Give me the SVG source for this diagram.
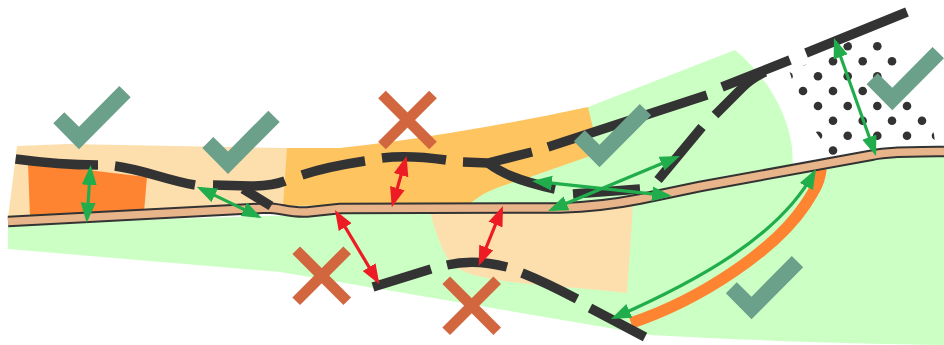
<svg xmlns="http://www.w3.org/2000/svg" width="944" height="345" viewBox="0 0 944 345">
<style>
.bg{fill:#fff}
.lo{fill:#fddfae}.or{fill:#fe8431}.ye{fill:#fec45f}.gr{fill:#ccffc4}
.dot{fill:#333}
.rd{fill:none;stroke:#333;stroke-width:11.5;stroke-linejoin:round}
.rf{fill:none;stroke:#e8b48a;stroke-width:7.5;stroke-linejoin:round}
.dk{fill:none;stroke:#333;stroke-width:9.5}
.strip{fill:none;stroke:#fe8431;stroke-width:11.5}
.ga{fill:none;stroke:#22ad4c;stroke-width:3.2;marker-start:url(#gh);marker-end:url(#gh)}
.ra{fill:none;stroke:#ed1c24;stroke-width:3.2;marker-start:url(#rh);marker-end:url(#rh)}
.chk{fill:#6ba08b}
.x{fill:none;stroke:#d2663f;stroke-width:10.8}
</style>
<defs>
<marker id="gh" markerUnits="userSpaceOnUse" markerWidth="20" markerHeight="16" refX="16" refY="8" orient="auto-start-reverse"><path d="M0,0.5L20,8L0,15.5Z" fill="#22ad4c"/></marker>
<marker id="rh" markerUnits="userSpaceOnUse" markerWidth="20" markerHeight="16" refX="16" refY="8" orient="auto-start-reverse"><path d="M0,0.5L20,8L0,15.5Z" fill="#ed1c24"/></marker>
<path id="ck" d="M53.3,123.3L64.3,112.3L79,126.7L119.3,86L130.7,97.3L79,149.3Z"/>
<g id="xm"><path d="M-25.5,-25.5L25.5,25.5M-25.5,25.5L25.5,-25.5"/></g>
<clipPath id="dc"><path d="M789,70L808,64L870,30L885,35L900,60L908,85L925,110L934,134L936,152L820,170L823,142L813,128L797,95Z"/></clipPath>
</defs>
<rect class="bg" width="944" height="345"/>
<g id="areas">
<path class="gr" d="M8,224L8,249L280,272L580,323L650,335C760,341 860,344 944,345L944,150L560,205L300,215Z"/>
<path class="gr" d="M460,208L500,180L590,140L588,107L735,50C765,75 787,110 792,147L793,170L600,205Z"/>
<path class="lo" d="M17,146L67,144L287,148L290,208L8,218Z"/>
<path class="lo" d="M430,212L633,205L627,293L600,290C540,285 480,282 457,268C443,258 437,235 430,212Z"/>
<path class="or" d="M28,163L147,177L144,212L30,218Z"/>
<path class="ye" d="M287,148L340,148C400,142 490,128 588,107L593,128L590,156L530,177C505,185 485,190 470,204L283,206Z"/>
</g>
<g id="dots" clip-path="url(#dc)">
<circle class="dot" cx="847.7" cy="46.3" r="4.3"/><circle class="dot" cx="877.3" cy="46.3" r="4.3"/>
<circle class="dot" cx="803.3" cy="61.3" r="4.3"/><circle class="dot" cx="833" cy="61.3" r="4.3"/><circle class="dot" cx="862.7" cy="61.3" r="4.3"/><circle class="dot" cx="892" cy="61.3" r="4.3"/>
<circle class="dot" cx="788.5" cy="76.3" r="4.3"/><circle class="dot" cx="818" cy="76.3" r="4.3"/><circle class="dot" cx="847.7" cy="76.3" r="4.3"/><circle class="dot" cx="877.3" cy="76.3" r="4.3"/>
<circle class="dot" cx="803" cy="91" r="4.3"/><circle class="dot" cx="833" cy="91" r="4.3"/><circle class="dot" cx="862.7" cy="91" r="4.3"/>
<circle class="dot" cx="818" cy="106" r="4.3"/><circle class="dot" cx="847.7" cy="106" r="4.3"/><circle class="dot" cx="877.3" cy="106" r="4.3"/><circle class="dot" cx="907" cy="106" r="4.3"/>
<circle class="dot" cx="833" cy="120.7" r="4.3"/><circle class="dot" cx="862.7" cy="120.7" r="4.3"/><circle class="dot" cx="892" cy="120.7" r="4.3"/><circle class="dot" cx="922" cy="120.7" r="4.3"/>
<circle class="dot" cx="818" cy="135.7" r="4.3"/><circle class="dot" cx="847.7" cy="135.7" r="4.3"/><circle class="dot" cx="877.3" cy="135.7" r="4.3"/><circle class="dot" cx="907" cy="135.7" r="4.3"/><circle class="dot" cx="936" cy="135.7" r="4.3"/>
<circle class="dot" cx="833" cy="150.5" r="4.3"/>
</g>
<g id="road">
<path class="strip" d="M631,323C700,300 775,250 805,205C815,190 821,180 821,165"/>
<path id="road-edge" class="rd" d="M8,221.5L267,208C280,208 290,213 307,212L340,208.5L560,208C590,207 615,204 640,199L700,186.5L873,155C885,152 900,152 944,151.5"/>
<path class="rf" d="M8,221.5L267,208C280,208 290,213 307,212L340,208.5L560,208C590,207 615,204 640,199L700,186.5L873,155C885,152 900,152 944,151.5"/>
</g>
<g id="connectors">
<g id="dashed">
<path class="dk" d="M15.6,159C45,163 70,165 98,165"/>
<path class="dk" d="M115,166C145,170 165,180 195,185"/>
<path class="dk" d="M213,185L250,186C265,186 275,185 285,181"/>
<path class="dk" d="M243,189L271,206"/>
<path class="dk" d="M302,175C320,169 345,164 365,161"/>
<path class="dk" d="M382,158C405,155 425,157 446,160"/>
<path class="dk" d="M463,162L488,163L532,152"/>
<path class="dk" d="M488,163C500,172 515,180 555,189"/>
<path class="dk" d="M548,147L707,95"/>
<path class="dk" d="M573,194L640,189"/>
<path class="dk" d="M658,180L702,127"/>
<path class="dk" d="M715,115L743,87C750,80 757,76 765,72"/>
<path class="dk" d="M722,87L790,60"/>
<path class="dk" d="M806,53L907,12"/>
<path class="dk" d="M373,287L431,269"/>
<path class="dk" d="M447,265C468,260 488,262 507,267"/>
<path class="dk" d="M522,273C542,281 558,289 577,299"/>
<path class="dk" d="M590,308L645,337"/>
</g>
<path class="ga" d="M90.4,169L87,218.7"/>
<path class="ga" d="M200.3,188.4L258.1,216.3"/>
<path class="ga" d="M536,181.4L668,195.6"/>
<path class="ga" d="M676.3,157.5L551.7,209.5"/>
<path class="ga" d="M835.3,41.8L874.7,152.2"/>
<path class="ga" d="M814,172.5C780,235 700,280 614.7,317.4"/>
<path class="ra" d="M405.5,159.8L392.9,203.5"/>
<path class="ra" d="M337,213.4L377.3,280.9"/>
<path class="ra" d="M501.5,209.7L480.2,262.3"/>
</g>
<g id="check-1"><use href="#ck" class="chk"/></g>
<g id="check-2"><use href="#ck" class="chk" transform="translate(149,24.7)"/></g>
<g id="check-3"><use href="#ck" class="chk" transform="translate(520.5,18)"/></g>
<g id="check-4"><use href="#ck" class="chk" transform="translate(813.3,-39)"/></g>
<g id="check-5"><use href="#ck" class="chk" transform="translate(672.5,170)"/></g>
<g id="cross-1"><use href="#xm" class="x" transform="translate(407.5,120)"/></g>
<g id="cross-2"><use href="#xm" class="x" transform="translate(321.7,275.7)"/></g>
<g id="cross-3"><use href="#xm" class="x" transform="translate(471.7,305.7)"/></g>
</svg>
